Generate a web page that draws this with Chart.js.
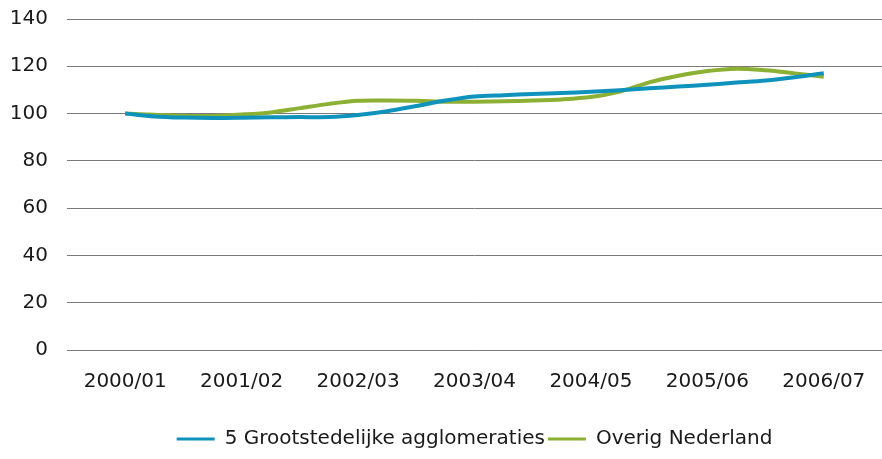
<!DOCTYPE html>
<html lang="nl">
<head>
  <meta charset="UTF-8">
  <title>Grootstedelijke agglomeraties vs overig Nederland</title>
  <script src="https://cdn.jsdelivr.net/npm/chart.js"></script>
  <style>
    html, body { margin: 0; padding: 0; background: #fff; }
    #wrap { width: 882px; height: 459px; }
  </style>
</head>
<body>
  <div id="wrap"><canvas id="grafiek" width="882" height="459"></canvas></div>
  <script>
    // jaarlabels op de x-as (elk 4e kwartaalpunt)
    const jaren = ['2000/01', '2001/02', '2002/03', '2003/04', '2004/05', '2005/06', '2006/07'];
    // waarden per kwartaal, index 2000/01 = 100
    const grootstedelijk = [100, 98.8, 98.3, 98.1, 98.2, 98.4, 98.5, 98.5, 99.4, 101, 103.2, 105.5, 107.2,
      107.8, 108.3, 108.7, 109.2, 109.9, 110.7, 111.4, 112.2, 113.1, 114, 115.4, 117.1];
    const overig = [100, 99.5, 99.1, 99, 99.6, 100.5, 102.3, 104.1, 105.4, 105.5, 105.4, 105, 105,
      105.2, 105.5, 106, 107, 109.3, 113.2, 116, 118, 119, 118.3, 117, 115.6];
    const yTicks = [0, 20, 40, 60, 80, 100, 120, 140];

    const blauw = '#0f93bd';
    const groen = '#8cb033';
    const lettertype = "'DejaVu Sans', sans-serif";

    const punten = reeks => reeks.map((v, i) => ({ x: i, y: v }));

    new Chart(document.getElementById('grafiek'), {
      type: 'line',
      data: {
        datasets: [
          { label: '5 Grootstedelijke agglomeraties', data: punten(grootstedelijk), borderColor: blauw, backgroundColor: blauw, borderWidth: 4, pointRadius: 0, tension: 0.3 },
          { label: 'Overig Nederland', data: punten(overig), borderColor: groen, backgroundColor: groen, borderWidth: 4, pointRadius: 0, tension: 0.3 }
        ]
      },
      options: {
        responsive: false,
        animation: false,
        layout: { autoPadding: false, padding: { top: 19, right: 0, left: 0, bottom: 0 } },
        plugins: {
          tooltip: { enabled: false },
          legend: {
            position: 'bottom',
            fullSize: false,
            labels: {
              boxWidth: 38, boxHeight: 3, padding: 3, color: '#1a1a1a',
              font: { family: lettertype, size: 20 },
              // alleen een dun gekleurd streepje, zonder rand
              generateLabels: chart => Chart.defaults.plugins.legend.labels.generateLabels(chart)
                .map(l => Object.assign(l, { lineWidth: 0 }))
            }
          }
        },
        scales: {
          x: {
            type: 'linear',
            min: -2,
            max: (jaren.length - 1) * 4 + 2,
            afterBuildTicks: as => { as.ticks = jaren.map((_, i) => ({ value: i * 4 })); },
            grid: { display: false },
            border: { display: false },
            ticks: {
              padding: 12,
              maxRotation: 0,
              color: '#1a1a1a',
              font: { family: lettertype, size: 20 },
              callback: v => jaren[v / 4]
            },
            afterFit: as => { as.height = 76; as.paddingLeft = 0; as.paddingRight = 0; }
          },
          y: {
            min: 0,
            max: 140,
            afterBuildTicks: as => { as.ticks = yTicks.map(v => ({ value: v })); },
            grid: { color: '#7a7a7a', drawTicks: false },
            border: { display: false },
            ticks: { padding: 19, color: '#1a1a1a', font: { family: lettertype, size: 20 } },
            afterFit: as => { as.width = 67; as.paddingTop = 0; as.paddingBottom = 0; }
          }
        }
      }
    });
  </script>
</body>
</html>
